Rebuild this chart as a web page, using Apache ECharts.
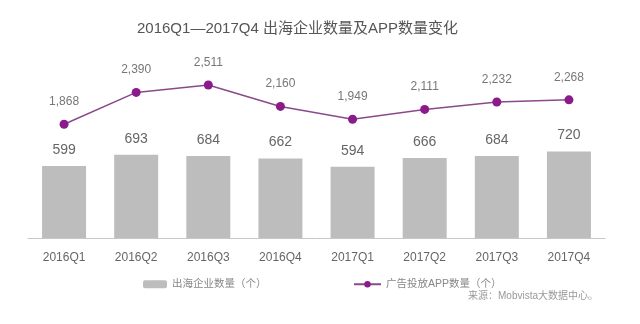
<!DOCTYPE html>
<html><head><meta charset="utf-8">
<script src="https://cdn.jsdelivr.net/npm/echarts@6/dist/echarts.min.js"></script>
<style>html,body{margin:0;padding:0;background:#fff}#c{width:640px;height:324px}</style>
</head><body><div id="c"></div>
<script>
const categories = ['2016Q1','2016Q2','2016Q3','2016Q4','2017Q1','2017Q2','2017Q3','2017Q4'];
const companyCounts = [599, 693, 684, 662, 594, 666, 684, 720];
const appCounts = [1868, 2390, 2511, 2160, 1949, 2111, 2232, 2268];
const barName = '出海企业数量（个）';
const lineName = '广告投放APP数量（个）';
const titleText = '2016Q1—2017Q4 出海企业数量及APP数量变化';
const sourceText = '来源：Mobvista大数据中心。';

const FF = '"Liberation Sans","Noto Sans CJK SC",sans-serif';
const chart = echarts.init(document.getElementById('c'));
chart.setOption({
  backgroundColor: '#fff',
  animation: false,
  textStyle: { fontFamily: FF },
  title: { text: titleText, left: 132, top: 16, textStyle: { fontSize: 15, fontWeight: 'normal', color: '#555', fontFamily: FF } },
  legend: [
    { data: [barName], left: 138, top: 274, itemWidth: 24, itemHeight: 8, itemGap: 5, textStyle: { fontSize: 10.5, color: '#888', fontFamily: FF } },
    { data: [lineName], left: 348, top: 274, itemWidth: 27, itemHeight: 8, textStyle: { fontSize: 10.5, color: '#888', fontFamily: FF } }
  ],
  grid: { left: 28, right: 35, top: 40, bottom: 86 },
  xAxis: {
    type: 'category', data: categories,
    axisLine: { lineStyle: { color: '#c8c8c8', width: 1 } },
    axisTick: { show: false },
    axisLabel: { color: '#666', fontSize: 12, margin: 14, fontFamily: FF }
  },
  yAxis: [
    { type: 'value', min: 0, max: 1650, show: false, splitLine: { show: false } },
    { type: 'value', min: 0, max: 3250, show: false, splitLine: { show: false } }
  ],
  series: [
    { name: barName, type: 'bar', data: companyCounts, barWidth: 44, yAxisIndex: 0,
      itemStyle: { color: '#bdbdbd' },
      label: { show: true, position: 'top', distance: 9, fontSize: 14, color: '#666', fontFamily: FF } },
    { name: lineName, type: 'line', data: appCounts, yAxisIndex: 1,
      symbol: 'circle', symbolSize: 9,
      lineStyle: { color: '#8a4a8a', width: 1.5 },
      itemStyle: { color: '#8b1a8b' },
      label: { show: true, position: 'top', distance: 12, fontSize: 12, color: '#777', fontFamily: FF,
        formatter: p => p.value.toLocaleString('en-US') } }
  ],
  graphic: [
    { type: 'text', right: 42, top: 291, style: { text: sourceText, fontSize: 10, fill: '#999', fontFamily: FF } }
  ]
});
</script></body></html>
